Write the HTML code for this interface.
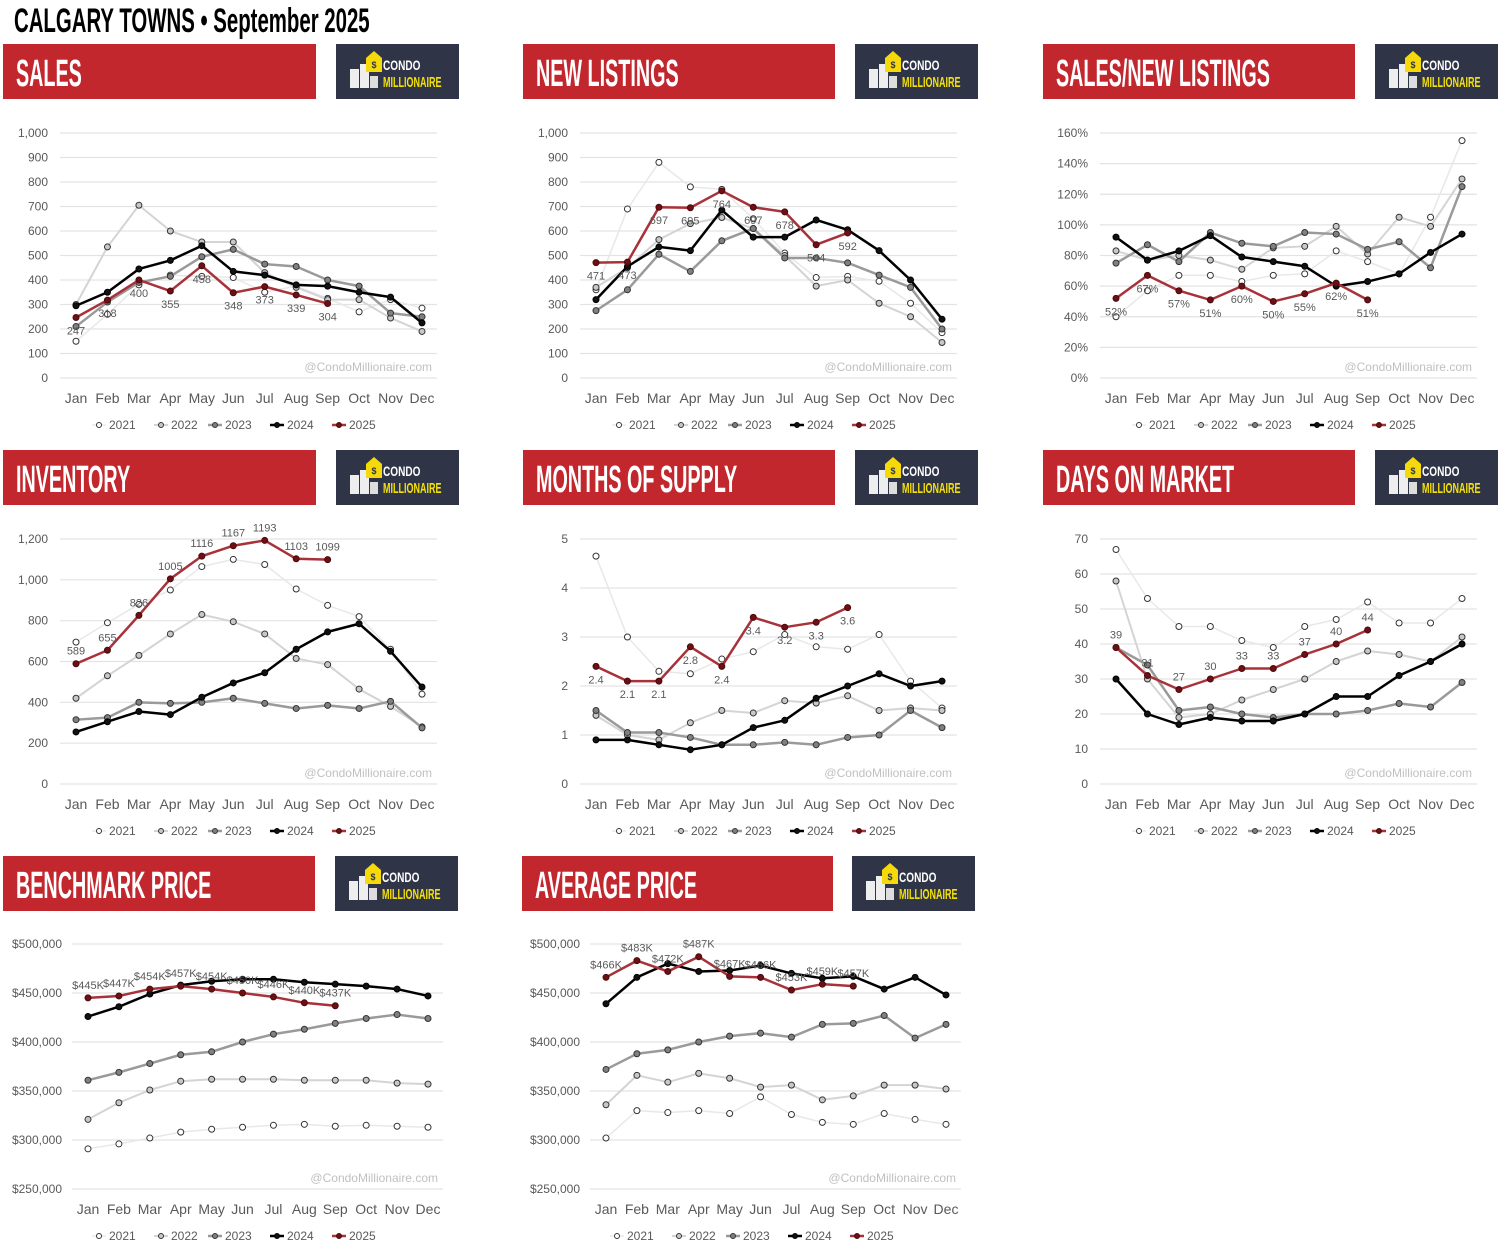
<!DOCTYPE html>
<html><head><meta charset="utf-8">
<style>
body{margin:0;background:#fff;width:1502px;height:1255px;overflow:hidden;font-family:"Liberation Sans",sans-serif}
svg{display:block}
.hdr{font-family:"Liberation Sans",sans-serif;font-weight:bold;fill:#fff}
</style></head>
<body>
<svg id="page" width="1502" height="1255" xmlns="http://www.w3.org/2000/svg"></svg>
<script>
const months=["Jan","Feb","Mar","Apr","May","Jun","Jul","Aug","Sep","Oct","Nov","Dec"];
const years=["2021","2022","2023","2024","2025"];
// SALES
const sales2021=[150,260,380,420,415,410,350,375,325,270,320,285];
const sales2022=[300,535,705,600,555,555,430,370,320,320,245,190];
const sales2023=[210,310,390,415,495,525,465,455,400,375,265,250];
const sales2024=[295,350,445,480,540,435,420,380,375,350,330,225];
const sales2025=[247,318,400,355,458,348,373,339,304];
// NEW LISTINGS
const nl2021=[360,690,880,780,770,650,510,410,415,395,305,185];
const nl2022=[370,450,565,630,655,610,500,375,400,305,250,145];
const nl2023=[275,360,505,435,560,610,490,490,470,420,370,200];
const nl2024=[320,455,535,520,685,575,575,645,605,520,400,240];
const nl2025=[471,473,697,695,764,697,678,544,592];
// SALES / NEW LISTINGS (%)
const snl2021=[40,57,67,67,63,67,68,83,76,68,105,155];
const snl2022=[83,77,80,77,71,85,86,99,81,105,99,130];
const snl2023=[75,87,76,95,88,86,95,94,84,89,72,125];
const snl2024=[92,77,83,93,79,76,73,60,63,68,82,94];
const snl2025=[52,67,57,51,60,50,55,62,51];
// INVENTORY
const inv2021=[695,790,880,950,1065,1100,1075,955,875,820,660,440];
const inv2022=[420,530,630,735,830,795,735,615,585,465,380,280];
const inv2023=[315,325,400,395,400,420,395,370,385,370,405,275];
const inv2024=[255,305,355,340,425,495,545,660,745,785,650,475];
const inv2025=[589,655,826,1005,1116,1167,1193,1103,1099];
// MONTHS OF SUPPLY
const mos2021=[4.65,3.0,2.3,2.25,2.55,2.7,3.05,2.8,2.75,3.05,2.1,1.55];
const mos2022=[1.4,1.0,0.9,1.25,1.5,1.45,1.7,1.65,1.8,1.5,1.55,1.5];
const mos2023=[1.5,1.05,1.05,0.95,0.8,0.8,0.85,0.8,0.95,1.0,1.5,1.15];
const mos2024=[0.9,0.9,0.8,0.7,0.8,1.15,1.3,1.75,2.0,2.25,2.0,2.1];
const mos2025=[2.4,2.1,2.1,2.8,2.4,3.4,3.2,3.3,3.6];
// DAYS ON MARKET
const dom2021=[67,53,45,45,41,39,45,47,52,46,46,53];
const dom2022=[58,30,19,20,24,27,30,35,38,37,35,42];
const dom2023=[39,34,21,22,20,19,20,20,21,23,22,29];
const dom2024=[30,20,17,19,18,18,20,25,25,31,35,40];
const dom2025=[39,31,27,30,33,33,37,40,44];
// BENCHMARK PRICE (thousands)
const bp2021=[291,296,302,308,311,313,315,316,314,315,314,313];
const bp2022=[321,338,351,360,362,362,362,361,361,361,358,357];
const bp2023=[361,369,378,387,390,400,408,413,419,424,428,424];
const bp2024=[426,436,449,458,462,464,464,461,459,457,454,447];
const bp2025=[445,447,454,457,454,450,446,440,437];
// AVERAGE PRICE (thousands)
const ap2021=[302,330,328,330,327,344,326,318,316,327,321,316];
const ap2022=[336,366,359,368,363,354,356,341,345,356,356,352];
const ap2023=[372,388,392,400,406,409,405,418,419,427,404,418];
const ap2024=[439,466,480,472,473,478,470,465,467,454,466,448];
const ap2025=[466,483,472,487,467,466,453,459,457];

const NS="http://www.w3.org/2000/svg";
const page=document.getElementById('page');
function mk(tag,attrs,parent,text){const e=document.createElementNS(NS,tag);for(const k in attrs)e.setAttribute(k,attrs[k]);if(text!==undefined)e.textContent=text;(parent||page).appendChild(e);return e;}

const styles=[
 {line:"#e8e8e8",w:1.5,fill:"#ffffff",stroke:"#333"},
 {line:"#d4d4d4",w:2,fill:"#c8c8c8",stroke:"#333"},
 {line:"#9a9a9a",w:2.5,fill:"#808080",stroke:"#333"},
 {line:"#000000",w:2.5,fill:"#111",stroke:"#000"},
 {line:"#a8323a",w:2.5,fill:"#6e0f14",stroke:"#4a0a0d"}
];

// title
const t=mk('text',{x:14,y:32,'font-size':34,'font-weight':'bold',fill:'#000',transform:'translate(14,0) scale(0.6,1) translate(-14,0)'},page,'CALGARY TOWNS • September 2025');



function header(x,y,w,title,lx){
  const g=mk('g',{});
  
  
  mk('rect',{x:x,y:y,width:w,height:55,fill:'#c1272d'},g);
  mk('text',{x:x+13,y:y+42,'font-size':38,class:'hdr',transform:`translate(${x+13},0) scale(0.52,1) translate(${-(x+13)},0)`},g,title);
  const lg=mk('g',{},g);
  
  
  mk('rect',{x:lx,y:y,width:123,height:55,fill:'#2f3547'},lg);
  mk('rect',{x:lx+14,y:y+25,width:9,height:19,fill:'#eee'},lg);
  mk('rect',{x:lx+24,y:y+20,width:9,height:24,fill:'#eee'},lg);
  mk('rect',{x:lx+34,y:y+32,width:8,height:12,fill:'#ddd'},lg);
  mk('path',{d:`M${lx+30} ${y+14} l8 -7 l8 7 v14 h-16z`,fill:'#f5d90a'},lg);
  mk('text',{x:lx+38,y:y+24,'font-size':9,'font-weight':'bold',fill:'#2f3547','text-anchor':'middle'},lg,'$');
  mk('text',{x:lx+47,y:y+26,'font-size':14,'font-weight':'bold',fill:'#fff',transform:`translate(${lx+47},0) scale(0.72,1) translate(${-(lx+47)},0)`},lg,'CONDO');
  mk('text',{x:lx+47,y:y+43,'font-size':15,'font-weight':'bold',fill:'#f5e10a',transform:`translate(${lx+47},0) scale(0.6,1) translate(${-(lx+47)},0)`},lg,'MILLIONAIRE');
}

function chart(c){
  const g=mk('g',{});
  
  
  const yS=v=>c.yb+(v-c.min)/(c.max-c.min)*(c.yt-c.yb);
  const xS=i=>c.jan+i*(c.dec-c.jan)/11;
  for(let v=c.min;v<=c.max+1e-9;v+=c.step){
    const y=yS(v);
    const gl=mk('line',{x1:c.gx0,x2:c.gx1,y1:y,y2:y,stroke:'#e3e3e3','stroke-width':1.2},g);
    
    
    const tl=mk('text',{x:c.lx,y:y+4,'font-size':12,fill:'#595959','text-anchor':'end'},g,c.fmt(v));
    
    
  }
  months.forEach((m,i)=>{
    const ml=mk('text',{x:xS(i),y:c.my,'font-size':14,fill:'#595959','text-anchor':'middle'},g,m);
    
    
  });
  const wm=mk('text',{x:c.gx1-5,y:c.wy,'font-size':12,fill:'#c0c0c0','text-anchor':'end'},g,'@CondoMillionaire.com');
  
  
  c.series.forEach((s,k)=>{
    const st=styles[k];
    const pts=s.map((v,i)=>xS(i)+','+yS(v)).join(' ');
    const pl=mk('polyline',{points:pts,fill:'none',stroke:st.line,'stroke-width':st.w,'stroke-linejoin':'round'},g);
    
    
    s.forEach((v,i)=>{
      const p=mk('circle',{cx:xS(i),cy:yS(v),r:3,fill:st.fill,stroke:st.stroke,'stroke-width':1},g);
      
      
      if(k===4){
        const dl=mk('text',{x:xS(i),y:yS(v)+(c.labelAbove?-9:17),'font-size':11,fill:'#595959','text-anchor':'middle'},g,c.lfmt(v));
        
        
      }
    });
  });
  // legend
  const off=[0,62,116,178,240];
  years.forEach((yr,k)=>{
    const st=styles[k];const lx=c.legx+off[k];
    const le=mk('g',{},g);
    
    
    mk('line',{x1:lx-7,x2:lx+7,y1:c.legy,y2:c.legy,stroke:st.line,'stroke-width':st.w},le);
    mk('circle',{cx:lx,cy:c.legy,r:2.5,fill:st.fill,stroke:st.stroke,'stroke-width':1},le);
    mk('text',{x:lx+10,y:c.legy+4,'font-size':12,fill:'#595959'},le,yr);
  });
}
const num=v=>Math.round(v).toLocaleString('en-US');
const pct=v=>Math.round(v)+'%';
const money=v=>'$'+(v*1000).toLocaleString('en-US');
const kfmt=v=>'$'+v+'K';
const plain=v=>String(v);

header(3,44,313,'SALES',336);
header(523,44,312,'NEW LISTINGS',855);
header(1043,44,312,'SALES/NEW LISTINGS',1375);
header(3,450,313,'INVENTORY',336);
header(523,450,312,'MONTHS OF SUPPLY',855);
header(1043,450,312,'DAYS ON MARKET',1375);
header(3,856,312,'BENCHMARK PRICE',335);
header(522,856,311,'AVERAGE PRICE',852);

const row=(ox,yt,yb,my,legy)=>({gx0:ox+60,gx1:ox+437,lx:ox+48,jan:ox+76,dec:ox+422,yt,yb,my,legy,legx:ox+99,wy:yb-7});
chart(Object.assign(row(0,133,378,403,425),{name:'sales-chart',min:0,max:1000,step:100,fmt:num,lfmt:plain,labelAbove:false,series:[sales2021,sales2022,sales2023,sales2024,sales2025]}));
chart(Object.assign(row(520,133,378,403,425),{name:'new-listings-chart',min:0,max:1000,step:100,fmt:num,lfmt:plain,labelAbove:false,series:[nl2021,nl2022,nl2023,nl2024,nl2025]}));
chart(Object.assign(row(1040,133,378,403,425),{name:'sales-new-listings-chart',min:0,max:160,step:20,fmt:pct,lfmt:pct,labelAbove:false,series:[snl2021,snl2022,snl2023,snl2024,snl2025]}));
chart(Object.assign(row(0,539,784,809,831),{name:'inventory-chart',min:0,max:1200,step:200,fmt:num,lfmt:plain,labelAbove:true,series:[inv2021,inv2022,inv2023,inv2024,inv2025]}));
chart(Object.assign(row(520,539,784,809,831),{name:'months-of-supply-chart',min:0,max:5,step:1,fmt:plain,lfmt:v=>v.toFixed(1),labelAbove:false,series:[mos2021,mos2022,mos2023,mos2024,mos2025]}));
chart(Object.assign(row(1040,539,784,809,831),{name:'days-on-market-chart',min:0,max:70,step:10,fmt:plain,lfmt:plain,labelAbove:true,series:[dom2021,dom2022,dom2023,dom2024,dom2025]}));
chart({name:'benchmark-price-chart',gx0:72,gx1:443,lx:62,jan:88,dec:428,yt:944,yb:1189,my:1214,legy:1236,legx:99,wy:1182,min:250,max:500,step:50,fmt:money,lfmt:kfmt,labelAbove:true,series:[bp2021,bp2022,bp2023,bp2024,bp2025]});
chart({name:'average-price-chart',gx0:590,gx1:961,lx:580,jan:606,dec:946,yt:944,yb:1189,my:1214,legy:1236,legx:617,wy:1182,min:250,max:500,step:50,fmt:money,lfmt:kfmt,labelAbove:true,series:[ap2021,ap2022,ap2023,ap2024,ap2025]});
</script>
</body></html>
